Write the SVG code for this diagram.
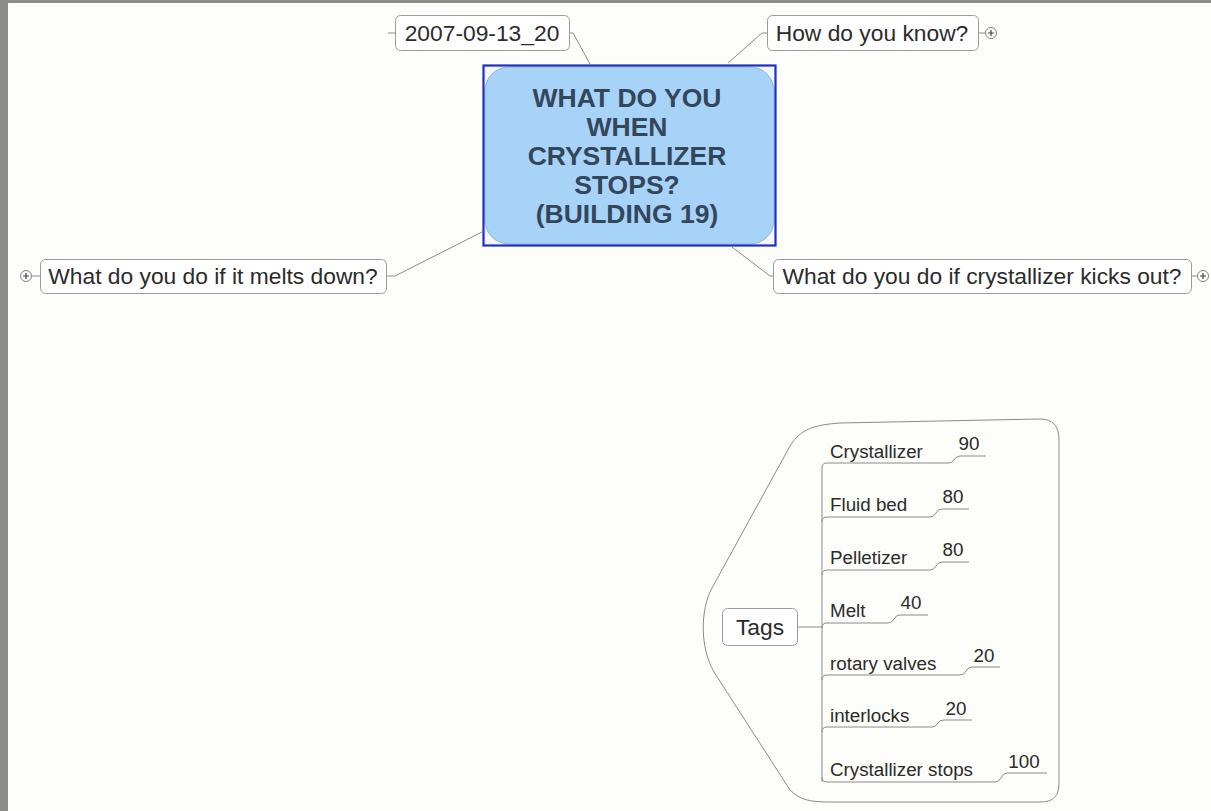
<svg xmlns="http://www.w3.org/2000/svg" width="1211" height="811" viewBox="0 0 1211 811">
<style>
.bg{fill:#fdfdf9}
.box{fill:#ffffff;stroke:#9a9a9a;stroke-width:1}
.lbl{font-family:"Liberation Sans",Arial,sans-serif;font-size:22.8px;fill:#2b2b2b}
.tag{font-family:"Liberation Sans",Arial,sans-serif;font-size:18.8px;fill:#2b2b2b}
.val{font-family:"Liberation Sans",Arial,sans-serif;font-size:18.8px;fill:#2b2b2b;text-anchor:middle}
.ctr{font-family:"Liberation Sans",Arial,sans-serif;font-size:26.5px;font-weight:bold;fill:#34465a;text-anchor:middle}
.ln{fill:none;stroke:#8a8a8a;stroke-width:1}
.plus circle{fill:#ffffff;stroke:#808080;stroke-width:1}
.plus path{stroke:#404040;stroke-width:1.2}
</style>
<rect class="bg" x="0" y="0" width="1211" height="811"/>
<rect x="0" y="0" width="1211" height="3" fill="#8c8c8c"/>
<rect x="0" y="0" width="8" height="811" fill="#8c8c8c"/>

<g id="connectors">
<polyline class="ln" points="570,33 573,33 590,64"/>
<line class="ln" x1="388" y1="33" x2="395" y2="33"/>
<polyline class="ln" points="767,33 762,33 728,63"/>
<polyline class="ln" points="773,276 770,276 732,247"/>
<polyline class="ln" points="387,276 395,276 482,232"/>
<line class="ln" x1="979" y1="33" x2="985" y2="33"/>
<line class="ln" x1="1192" y1="276" x2="1197" y2="276"/>
<line class="ln" x1="32" y1="276" x2="40" y2="276"/>
<path class="ln" d="M798,627 H822"/>
<path class="ln" d="M822,782 V468 Q822,463 827,463 H948 Q952,463 954,460 Q956,456 960,456 H986"/>
<path class="ln" d="M822,522 Q822,517 827,517 H930 Q934,517 936,513 Q938,509 942,509 H969"/>
<path class="ln" d="M822,575 Q822,570 827,570 H930 Q934,570 936,566 Q938,562 942,562 H969"/>
<path class="ln" d="M822,628 Q822,623 827,623 H888 Q892,623 894,619 Q896,615 900,615 H928"/>
<path class="ln" d="M822,680 Q822,675 827,675 H960 Q964,675 966,671 Q968,667 972,667 H1000"/>
<path class="ln" d="M822,732 Q822,727 827,727 H932 Q936,727 938,723 Q940,720 944,720 H972"/>
<path class="ln" d="M822,777 Q822,782 827,782 H995 Q999,782 1001,778 Q1003,773 1007,773 H1047"/>
</g>

<g id="central">
<rect x="484" y="66" width="291" height="179" fill="#f4f6fa" stroke="none"/>
<rect x="485" y="67" width="289" height="177" rx="24" ry="24" fill="#a7d3f9" stroke="#8fb4d6" stroke-width="1"/>
<rect x="483.5" y="65.5" width="292" height="180" fill="none" stroke="#1f2fc4" stroke-width="2.2"/>
<text class="ctr" x="627" y="107">WHAT DO YOU</text>
<text class="ctr" x="627" y="136">WHEN</text>
<text class="ctr" x="627" y="165">CRYSTALLIZER</text>
<text class="ctr" x="627" y="194">STOPS?</text>
<text class="ctr" x="627" y="223">(BUILDING 19)</text>
</g>

<g id="date">
<rect class="box" x="395.5" y="15.5" width="174" height="35" rx="5"/>
<text class="lbl" x="482" y="41" text-anchor="middle">2007-09-13_20</text>
</g>

<g id="know">
<rect class="box" x="767.5" y="15.5" width="211" height="35" rx="5"/>
<text class="lbl" x="872" y="41" text-anchor="middle">How do you know?</text>
<g class="plus"><circle cx="991" cy="33" r="5.5"/><path d="M988,33 H994 M991,30 V36"/></g>
</g>

<g id="kicks">
<rect class="box" x="773.5" y="259.5" width="418" height="34" rx="5"/>
<text class="lbl" x="982" y="284" text-anchor="middle">What do you do if crystallizer kicks out?</text>
<g class="plus"><circle cx="1203" cy="276" r="5.5"/><path d="M1200,276 H1206 M1203,273 V279"/></g>
</g>

<g id="melts">
<rect class="box" x="40.5" y="259.5" width="346" height="34" rx="5"/>
<text class="lbl" x="213" y="284" text-anchor="middle">What do you do if it melts down?</text>
<g class="plus"><circle cx="26" cy="276" r="5.5"/><path d="M23,276 H29 M26,273 V279"/></g>
</g>

<g id="tags-boundary">
<path class="ln" d="M840,423 C812,425 800,430 790,446 L712,588 C700,610 700,648 714,672 L790,790 C800,800 810,802 830,802 L1040,802 C1054,802 1059,796 1059,782 L1059,440 C1059,426 1053,419 1040,419 Z"/>
</g>

<g id="tags">
<rect class="box" x="722.5" y="608.5" width="75" height="37" rx="5"/>
<text class="lbl" x="760" y="635" text-anchor="middle">Tags</text>
</g>

<g id="tag-items">
<text class="tag" x="830" y="458">Crystallizer</text><text class="val" x="969" y="450">90</text>
<text class="tag" x="830" y="511">Fluid bed</text><text class="val" x="953" y="503">80</text>
<text class="tag" x="830" y="564">Pelletizer</text><text class="val" x="953" y="556">80</text>
<text class="tag" x="830" y="617">Melt</text><text class="val" x="911" y="609">40</text>
<text class="tag" x="830" y="670">rotary valves</text><text class="val" x="984" y="662">20</text>
<text class="tag" x="830" y="722">interlocks</text><text class="val" x="956" y="715">20</text>
<text class="tag" x="830" y="776">Crystallizer stops</text><text class="val" x="1024" y="768">100</text>
</g>
</svg>
